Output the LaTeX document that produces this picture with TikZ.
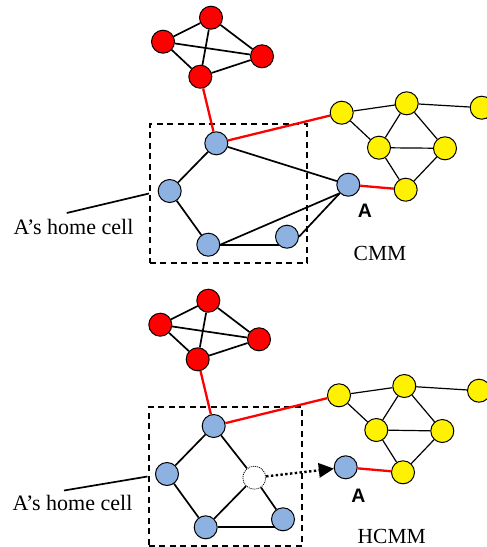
\documentclass[tikz,border=0pt]{standalone}
\usepackage{fontspec}
\setmainfont{Liberation Serif}
\newfontfamily\labelsans{Liberation Sans}
\usetikzlibrary{arrows.meta}
\definecolor{cellblue}{RGB}{141,178,225}
\tikzset{
  dev/.style={circle,draw=black,line width=1pt,minimum size=23pt,inner sep=0pt},
  rednode/.style={dev,fill=red},
  bluenode/.style={dev,fill=cellblue},
  yellownode/.style={dev,fill=yellow},
  ghost/.style={dev,line width=0.8pt,dash pattern=on 1pt off 1pt,fill=white},
  link/.style={line width=1.7pt,draw=black},
  thinlink/.style={line width=1.2pt,draw=black},
  redlink/.style={line width=2.3pt,draw=red},
  cellbox/.style={draw=black,line width=1.7pt,dash pattern=on 6pt off 4.5pt,inner sep=0pt},
  txt/.style={font=\fontsize{21.5pt}{23pt}\selectfont,inner sep=0pt},
  hometxt/.style={font=\fontsize{22pt}{24pt}\selectfont,inner sep=0pt},
  nodelabel/.style={font=\labelsans\bfseries\fontsize{19.5pt}{21pt}\selectfont,inner sep=0pt},
  move/.style={line width=2.4pt,draw=black,dash pattern=on 2.4pt off 2.4pt,-{Triangle[length=15pt,width=15pt,line width=0pt,fill=black]}}
}
\begin{document}
\begin{tikzpicture}[x=1pt,y=-1pt]
\useasboundingbox (0,0) rectangle (487,547);
\clip (0,0) rectangle (487,547);
% top panel
\node[cellbox,minimum width=157.6pt,minimum height=139pt] (boxa) at (228.5,193.8) {};
\node[rednode] (ra1) at (211,17.7) {};
\node[rednode] (ra2) at (163,41.7) {};
\node[rednode] (ra3) at (262,56.3) {};
\node[rednode] (ra4) at (200.3,76.7) {};
\node[bluenode] (ba1) at (216.3,143.3) {};
\node[bluenode] (ba2) at (169.7,191) {};
\node[bluenode] (ba3) at (208.3,244.7) {};
\node[bluenode] (ba4) at (287,236.7) {};
\node[bluenode] (ba5) at (348.3,184.7) {};
\node[yellownode] (ya1) at (341.7,112.7) {};
\node[yellownode] (ya2) at (406.7,103.3) {};
\node[yellownode] (ya3) at (481.7,107.7) {};
\node[yellownode] (ya4) at (379,147.7) {};
\node[yellownode] (ya5) at (445,148.3) {};
\node[yellownode] (ya6) at (405.7,189.7) {};
\foreach \p/\q in {ra1/ra2,ra1/ra3,ra1/ra4,ra2/ra3,ra2/ra4,ra3/ra4,ba1/ba2,ba2/ba3,ba1/ba5}
  \draw[link] (\p) -- (\q);
\draw[link] (ba3.east) -- (ba3.east -| ba4.225);
\draw[link] (ba3.east) -- (ba5.225);
\draw[link] (ba4.east) -- (ba5.225);
\foreach \p/\q in {ya1/ya2,ya2/ya3,ya1/ya4,ya2/ya4,ya2/ya5,ya4/ya5,ya4/ya6,ya5/ya6}
  \draw[thinlink] (\p) -- (\q);
\foreach \p/\q in {ra4/ba1,ba1/ya1,ba5/ya6}
  \draw[redlink] (\p) -- (\q);
\node[nodelabel] (la) at (365,210.7) {A};
\node[txt] (ca) at (380,253) {CMM};
\node[hometxt] (ha) at (73.5,227) {A’s home cell};
\coordinate (ta) at (66.7,213);
\coordinate (ea) at (149,193.5);
\draw[link] (ta) -- (ea);
% bottom panel
\node[cellbox,minimum width=153.6pt,minimum height=138.7pt] (boxb) at (225.5,476.3) {};
\node[rednode] (rb1) at (208.3,300.7) {};
\node[rednode] (rb2) at (160.3,324.7) {};
\node[rednode] (rb3) at (259,339.3) {};
\node[rednode] (rb4) at (197.7,359.3) {};
\node[bluenode] (bb1) at (213.7,426) {};
\node[bluenode] (bb2) at (167,474) {};
\node[bluenode] (bb3) at (205.7,527.3) {};
\node[bluenode] (bb4) at (283,519.3) {};
\node[bluenode] (bb5) at (345.7,467.3) {};
\node[ghost] (gb) at (254.3,477.7) {};
\node[yellownode] (yb1) at (339,395.3) {};
\node[yellownode] (yb2) at (404.3,386) {};
\node[yellownode] (yb3) at (479,390.7) {};
\node[yellownode] (yb4) at (376.3,430) {};
\node[yellownode] (yb5) at (442.3,431) {};
\node[yellownode] (yb6) at (403,472.3) {};
\foreach \p/\q in {rb1/rb2,rb1/rb3,rb1/rb4,rb2/rb3,rb2/rb4,rb3/rb4,bb1/bb2,bb2/bb3,bb1/gb,gb/bb3,gb/bb4}
  \draw[link] (\p) -- (\q);
\draw[link] (bb3.east) -- (bb3.east -| bb4.225);
\foreach \p/\q in {yb1/yb2,yb2/yb3,yb1/yb4,yb2/yb4,yb2/yb5,yb4/yb5,yb4/yb6,yb5/yb6}
  \draw[thinlink] (\p) -- (\q);
\foreach \p/\q in {rb4/bb1,bb1/yb1,bb5/yb6}
  \draw[redlink] (\p) -- (\q);
\draw[move] (gb) -- (bb5);
\node[nodelabel] (lb) at (358.3,496) {A};
\node[txt] (cb) at (391.7,536.7) {HCMM};
\node[hometxt] (hb) at (72.5,503) {A’s home cell};
\coordinate (tb) at (64,490.5);
\coordinate (eb) at (147.5,476.5);
\draw[link] (tb) -- (eb);
\end{tikzpicture}
\end{document}
